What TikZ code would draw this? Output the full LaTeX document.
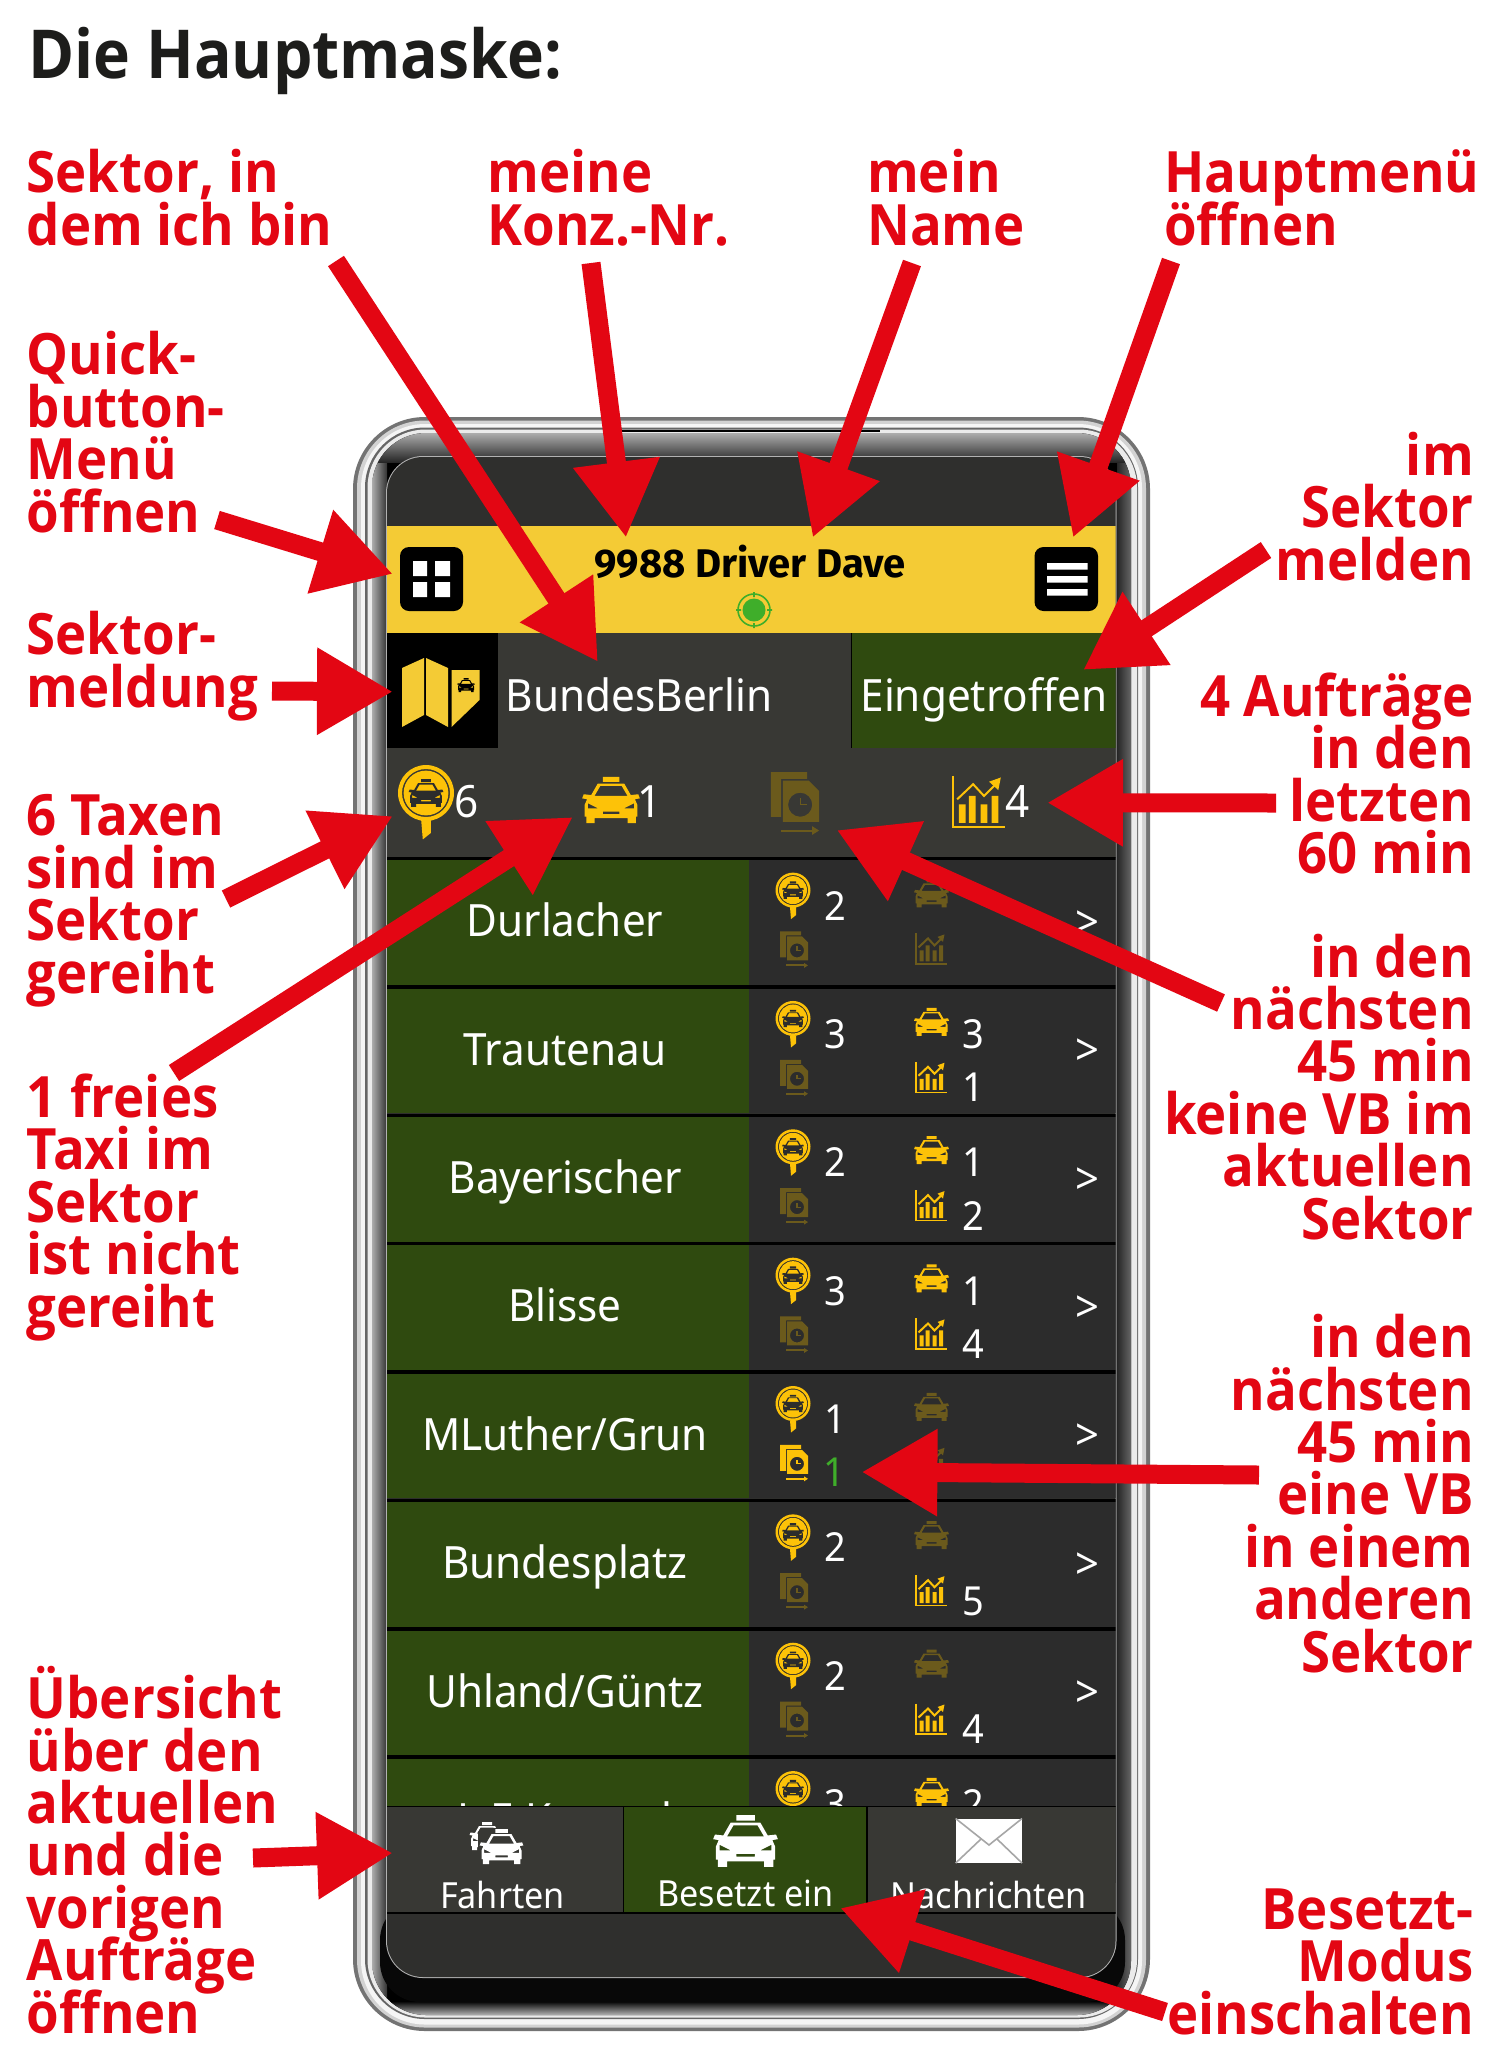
\documentclass[tikz,border=0pt]{standalone}
\usepackage{fontspec}
\usetikzlibrary{arrows.meta}
\setmainfont{Open Sans}[FakeStretch=0.925]
\newfontfamily\uifont{Noto Sans}[FakeStretch=0.95]
\newfontfamily\boldui{Fira Sans}
\lineskiplimit=-200pt
\definecolor{redmark}{HTML}{E30613}
\definecolor{inkblack}{HTML}{1D1D1B}
\definecolor{headyellow}{HTML}{F4CB35}
\definecolor{icony}{HTML}{FDC208}
\definecolor{icondim}{HTML}{6B5A1C}
\definecolor{darkgreen}{HTML}{2F4A0F}
\definecolor{panelgrey}{HTML}{383834}
\definecolor{rowgrey}{HTML}{2C2C2C}
\definecolor{screengrey}{HTML}{2F2F2D}
\definecolor{numgreen}{HTML}{3FAE2A}
\tikzset{
  redl/.style={font=\fontsize{57}{52.4}\selectfont\bfseries,text=redmark,align=left,anchor=base west,inner sep=0pt},
  redr/.style={font=\fontsize{57}{52.4}\selectfont\bfseries,text=redmark,align=right,anchor=base east,inner sep=0pt},
  redarrow/.style={draw=redmark,line width=19pt,-{Triangle[width=82pt,length=76pt]}},
  uitext/.style={font=\uifont\fontsize{44.5}{45}\selectfont,text=white,inner sep=0pt,anchor=base},
  numtext/.style={font=\uifont\fontsize{40}{40}\selectfont,text=white,inner sep=0pt,anchor=base},
  navtext/.style={font=\uifont\fontsize{36}{36}\selectfont,text=white,inner sep=0pt,anchor=base},
}
% icons: x, y, scale, colour
\newcommand{\taxiico}[4]{\begin{scope}[shift={(#1,#2)},scale=#3]
  \fill[#4,even odd rule] (-5,-14) rectangle (5,-11)
    (-8,-10) -- (8,-10) -- (12,-3) -- (16.5,-3.5) -- (17.5,-1) -- (14.5,-.5) -- (16,3) -- (16,10) -- (15,10) -- (15,14) -- (10,14) -- (10,11)
    -- (-10,11) -- (-10,14) -- (-15,14) -- (-15,10) -- (-16,10) -- (-16,3) -- (-14.5,-.5) -- (-17.5,-1) -- (-16.5,-3.5) -- (-12,-3) -- cycle
    (-10,-2.5) -- (-6.5,-8.5) -- (6.5,-8.5) -- (10,-2.5) -- cycle
    (-14,2) -- (-8,5) -- (-14,5) -- cycle (14,2) -- (8,5) -- (14,5) -- cycle
    (-5,7) rectangle (5,8.5);
\end{scope}}
\newcommand{\pinico}[3]{\begin{scope}[shift={(#1,#2)},scale=#3]
  \fill[icony,even odd rule] (0,0) circle (17.5) (0,0) circle (15) (0,0) circle (14);
  \fill[icony] (-3,17) -- (3,17) -- (3,25) -- (-2,29) -- cycle;
\end{scope}
\taxiico{#1}{#2}{#3*0.62}{rowgrey}}
\newcommand{\docico}[4]{\begin{scope}[shift={(#1,#2)},scale=#3]
  \fill[#4] (-14,-18) -- (7,-18) -- (7,-14) -- (-8,-14) -- (-8,8) -- (-14,8) -- cycle;
  \fill[#4,even odd rule] (-7,-13) -- (8,-13) -- (14,-7) -- (14,11) -- (-7,11) -- cycle (3,1) circle (7);
  \draw[#4,line width=1.2pt] (3,-3) -- (3,1) -- (7,1);
  \draw[#4,line width=2pt] (-8,16) -- (11,16);
  \fill[#4] (10,13.5) -- (14,16) -- (10,18.5) -- cycle;
\end{scope}}
\newcommand{\chartico}[4]{\begin{scope}[shift={(#1,#2)},scale=#3]
  \draw[#4,line width=1.5pt] (-15.5,-15) -- (-15.5,15.5) -- (15.5,15.5);
  \fill[#4] (-12,2) rectangle (-8,13) (-6,-3) rectangle (-2,13) (1,2) rectangle (5,13) (7.5,-3) rectangle (11.5,13);
  \draw[#4,line width=2pt] (-13,-1) -- (-3.5,-10) -- (3,-3) -- (10,-10);
  \fill[#4] (13,-14) -- (11.5,-6.5) -- (6,-11.5) -- cycle;
\end{scope}}
% row: index, name, pin number, taxi colour, taxi number, doc colour, doc number, chart colour, chart number
\newcommand{\sectorrow}[9]{%
  \pgfmathsetmacro{\rs}{858.4+128.35*(#1-1)}
  \fill[rowgrey] (387,\rs+2) rectangle (1115.5,\rs+126.5);
  \fill[darkgreen] (387,\rs+2) rectangle (749,\rs+126.5);
  \fill[black] (387,\rs-1.5) rectangle (1115.5,\rs+2);
  \node[uitext] (rowname#1) at (565,\rs+78.5) {#2};
  \pinico{793}{\rs+31.7}{1}
  \node[numtext] (rowpin#1) at (835.5,\rs+61.6) {#3};
  \taxiico{931.5}{\rs+35}{1}{#4}
  \if\relax\detokenize{#5}\relax\else\node[numtext] (rowtaxi#1) at (973,\rs+61.6) {#5};\fi
  \docico{794}{\rs+91}{1}{#6}
  \if\relax\detokenize{#7}\relax\else\node[numtext,text=numgreen] (rowdoc#1) at (834,\rs+115) {#7};\fi
  \chartico{931.5}{\rs+90}{1}{#8}
  \if\relax\detokenize{#9}\relax\else\node[numtext] (rowchart#1) at (973,\rs+115) {#9};\fi
  \node[numtext,font=\uifont\fontsize{44}{44}\selectfont] (rowgo#1) at (1087,\rs+79) {>};
}
\begin{document}
\begin{tikzpicture}[x=1pt,y=-1pt]
\useasboundingbox (0,0) rectangle (1500,2059);
\fill[white] (0,0) rectangle (1500,2059);
% phone body
\fill[black!55] (353,417) [rounded corners=72pt] rectangle (1150,2031);
\fill[gray!35] (357,420.5) [rounded corners=68pt] rectangle (1146,2027.5);
\fill[white!96!black] (361,424) [rounded corners=64pt] rectangle (1142,2024.5);
\fill[black!60] (365,427.5) [rounded corners=60pt] rectangle (1138,2019);
\fill[white!92!black] (367.5,429.5) [rounded corners=58pt] rectangle (1137,2017.5);
\fill[black] (372,433) [rounded corners=54pt] rectangle (1131,2015);
\begin{scope}
  \clip (372,433) [rounded corners=54pt] rectangle (1131,2015);
  \shade[left color=gray!65,right color=black!80] (372,433) rectangle (387,2015);
  \shade[left color=black!85,right color=black!60] (1117,433) rectangle (1131,2015);
  \shade[top color=gray!65,bottom color=black!85] (372,433) rectangle (1131,462);
  \shade[top color=black,bottom color=gray!60] (372,2001) rectangle (1131,2015);
  \fill[black!97] (380,1900) [rounded corners=40pt] rectangle (1125,2002);
\end{scope}
\draw[black,line width=2pt] (620,430.5) -- (880,430.5);
\draw[gray!60,line width=2pt] (387,457) [rounded corners=36pt] rectangle (1115.5,1977);
\fill[screengrey] (387,457) [rounded corners=36pt] rectangle (1115.5,1977);
\begin{scope}
\clip (387,457) [rounded corners=36pt] rectangle (1115.5,1977);
% header
\fill[headyellow] (387,526) rectangle (1115.5,633);
\fill[black] (400,547) [rounded corners=9pt] rectangle (463,611);
\fill[white] (413,561) rectangle (427,576) (435,561) rectangle (450,576) (413,582) rectangle (427,597) (435,582) rectangle (450,597);
\fill[black] (1034.5,547) [rounded corners=9pt] rectangle (1098,611);
\fill[white] (1047,563) rectangle (1087.5,569.5) (1047,576) rectangle (1087.5,582.5) (1047,589) rectangle (1087.5,595.5);
\node[font=\boldui\fontsize{40}{40}\selectfont\bfseries,text=black,inner sep=0pt,anchor=base] (driver) at (750,577) {9988 Driver Dave};
\fill[numgreen] (754,610) circle (11.5);
\draw[numgreen,line width=1.6pt] (754,610) circle (16) (754,592) -- (754,597) (754,623) -- (754,628) (736,610) -- (741,610) (767,610) -- (772,610);
% sector row
\fill[panelgrey] (387,633) rectangle (1115.5,858);
\fill[black] (387,633) rectangle (498,748);
\fill[headyellow] (402,668) -- (424,658) -- (424,715) -- (402,727) -- cycle
  (426,658) -- (448,668) -- (448,727) -- (426,715) -- cycle
  (451.5,670) -- (479.5,670) -- (479.5,700) -- (451.5,727) -- cycle;
\taxiico{466}{685}{.5}{black}
\fill[darkgreen] (851,633) rectangle (1115.5,748);
\draw[black,line width=1pt] (851,633) -- (851,748);
\node[uitext] (sectorname) at (639,711) {BundesBerlin};
\node[uitext] (arrived) at (984,711) {Eingetroffen};
% stats row
\pinico{426}{793}{1.6}
\node[uitext] (statpin) at (466.5,817) {6};
\taxiico{611}{800}{1.65}{icony}
\node[uitext] (stattaxi) at (650,817) {1};
\docico{795}{803}{1.72}{icondim}
\chartico{979}{801}{1.68}{icony}
\node[uitext] (statchart) at (1018,817) {4};
% list
\sectorrow{1}{Durlacher}{2}{icondim}{}{icondim}{}{icondim}{}
\sectorrow{2}{Trautenau}{3}{icony}{3}{icondim}{}{icony}{1}
\sectorrow{3}{Bayerischer}{2}{icony}{1}{icondim}{}{icony}{2}
\sectorrow{4}{Blisse}{3}{icony}{1}{icondim}{}{icony}{4}
\sectorrow{5}{MLuther/Grun}{1}{icondim}{}{icony}{1}{icondim}{}
\sectorrow{6}{Bundesplatz}{2}{icondim}{}{icondim}{}{icony}{5}
\sectorrow{7}{Uhland/Güntz}{2}{icondim}{}{icondim}{}{icony}{4}
\sectorrow{8}{L E Kranzel}{3}{icony}{2}{icondim}{}{icondim}{}
% navigation
\fill[panelgrey] (387,1806.4) rectangle (1115.5,1913);
\fill[darkgreen] (623.7,1806.4) rectangle (867,1913);
\draw[black,line width=1.2pt] (387,1806.4) -- (1115.5,1806.4) (387,1913) -- (1115.5,1913) (623.7,1806.4) -- (623.7,1913) (867,1806.4) -- (867,1913);
\taxiico{487}{1836}{1.0}{white}
\fill[panelgrey,rounded corners=6pt] (478,1828) rectangle (526,1866);
\taxiico{501.5}{1846.7}{1.25}{white}
\node[navtext] (navrides) at (502.5,1908) {Fahrten};
\taxiico{745.5}{1841}{1.85}{white}
\node[navtext] (navbusy) at (745.5,1906) {Besetzt ein};
\fill[white] (955.7,1818.5) rectangle (1022,1863);
\draw[gray!70,line width=1.6pt] (955.7,1818.5) -- (989,1845) -- (1022,1818.5) (955.7,1863) -- (981,1839) (1022,1863) -- (997,1839);
\node[navtext] (navmsg) at (988.5,1908) {Nachrichten};
\end{scope}
% title and labels
\node[font=\fontsize{67.5}{67}\selectfont\bfseries,text=inkblack,anchor=base west,inner sep=0pt] (title) at (28,78) {Die Hauptmaske:};
\node[redl] (lsector) at (26.5,245) {Sektor, in\\dem ich bin};
\node[redl] (lkonz) at (487.5,245) {meine\\Konz.-Nr.};
\node[redl] (lname) at (867,245) {mein\\Name};
\node[redl] (lmenu) at (1164,245) {Hauptmenü\\öffnen};
\node[redl] (lquick) at (26.5,532) {Quick-\\button-\\Menü\\öffnen};
\node[redl] (lmeld) at (26.5,707) {Sektor-\\meldung};
\node[redl] (lsix) at (26.5,993) {6 Taxen\\sind im\\Sektor\\gereiht};
\node[redl] (lfree) at (26.5,1327) {1 freies\\Taxi im\\Sektor\\ist nicht\\gereiht};
\node[redl] (lover) at (26.5,2033) {Übersicht\\über den\\aktuellen\\und die\\vorigen\\Aufträge\\öffnen};
\node[redr] (rreport) at (1474,580) {im\\Sektor\\melden};
\node[redr] (rfour) at (1474,873.5) {4 Aufträge\\in den\\letzten\\60 min};
\node[redr] (rnone) at (1474,1239) {in den\\nächsten\\45 min\\keine VB im\\aktuellen\\Sektor};
\node[redr] (rone) at (1474,1672) {in den\\nächsten\\45 min\\eine VB\\in einem\\anderen\\Sektor};
\node[redr] (rbusy) at (1474,2034) {Besetzt-\\Modus\\einschalten};
% arrows
\coordinate (a1s) at (336,261); \coordinate (a1e) at (598,662);
\coordinate (a2s) at (591,263); \coordinate (a2e) at (626,537.7);
\coordinate (a3s) at (912,263); \coordinate (a3e) at (812.7,537.7);
\coordinate (a4s) at (1171,261); \coordinate (a4e) at (1073,537.7);
\coordinate (a5s) at (217,520); \coordinate (a5e) at (393,574);
\coordinate (a6s) at (272,691); \coordinate (a6e) at (393,691.7);
\coordinate (a7s) at (226,899); \coordinate (a7e) at (393,816);
\coordinate (a8s) at (174,1073); \coordinate (a8e) at (573,817);
\coordinate (a9s) at (1221,1003); \coordinate (a9e) at (836.6,830);
\coordinate (a10s) at (1276,803); \coordinate (a10e) at (1047,802.7);
\coordinate (a11s) at (1266,550); \coordinate (a11e) at (1083,670);
\coordinate (a12s) at (1259,1475); \coordinate (a12e) at (861.4,1472);
\coordinate (a13s) at (253,1858); \coordinate (a13e) at (393,1853);
\coordinate (a14s) at (1165,2012); \coordinate (a14e) at (840,1908);
\foreach \n in {1,...,14} \draw[redarrow] (a\n s) -- (a\n e);
\end{tikzpicture}
\end{document}
